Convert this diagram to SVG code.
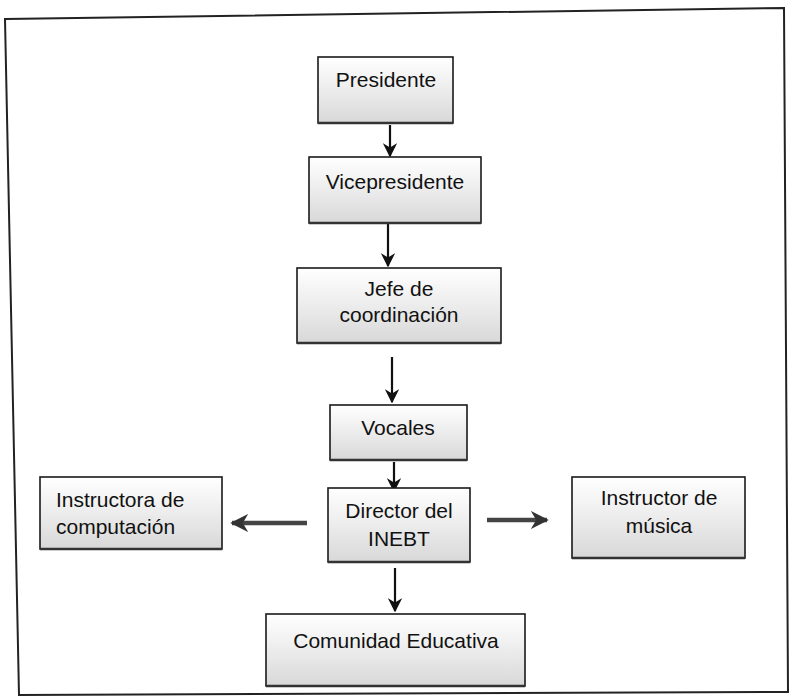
<svg xmlns="http://www.w3.org/2000/svg" width="791" height="700" viewBox="0 0 791 700">
<defs>
<linearGradient id="g" x1="0" y1="0" x2="0" y2="1">
<stop offset="0" stop-color="#ffffff"/>
<stop offset="0.35" stop-color="#f2f2f2"/>
<stop offset="1" stop-color="#d8d8d8"/>
</linearGradient>
<marker id="ah" viewBox="0 0 10 10" refX="9" refY="5" markerWidth="6.5" markerHeight="6.5" markerUnits="strokeWidth" orient="auto">
<path d="M0,0 L10,5 L0,10 L3,5 Z" fill="#111"/>
</marker>
<marker id="ahg" viewBox="0 0 10 10" refX="9" refY="5" markerWidth="4" markerHeight="4" markerUnits="strokeWidth" orient="auto">
<path d="M0,0 L10,5 L0,10 L3,5 Z" fill="#333"/>
</marker>
</defs>
<style>
.box{fill:url(#g);stroke:#1a1a1a;stroke-width:1.6}
.sh{stroke:#333;stroke-width:2.5;fill:none}
.t{font-family:"Liberation Sans",Arial,sans-serif;font-size:21px;fill:#111}
.c{text-anchor:middle}
.v{stroke:#111;stroke-width:2.2;fill:none;marker-end:url(#ah)}
.h{stroke:#444;stroke-width:4.5;fill:none;marker-end:url(#ahg)}
.frame{fill:none;stroke:#222;stroke-width:2}
</style>
<rect width="791" height="700" fill="#fff"/>
<path class="frame" d="M5,19 L784,8 L788,692 L19,695 Z"/>
<g id="connectors">
<line class="v" x1="390" y1="125" x2="390" y2="156"/>
<line class="v" x1="388" y1="224" x2="388" y2="266"/>
<line class="v" x1="392" y1="357" x2="392" y2="402"/>
<line class="v" x1="394" y1="462" x2="394" y2="491"/>
<line class="h" x1="307" y1="523" x2="232" y2="523"/>
<line class="h" x1="487" y1="520" x2="547" y2="520"/>
<line class="v" x1="395" y1="568" x2="395" y2="611"/>
</g>
<g id="presidente">
<rect class="box" x="318" y="57" width="135" height="66"/>
<line class="sh" x1="318" y1="123" x2="453" y2="123"/>
<text class="t c" x="386" y="87">Presidente</text>
</g>
<g id="vicepresidente">
<rect class="box" x="309" y="157" width="172" height="66"/>
<line class="sh" x1="309" y1="223" x2="481" y2="223"/>
<text class="t c" x="395" y="189">Vicepresidente</text>
</g>
<g id="jefe">
<rect class="box" x="297" y="268" width="204" height="75"/>
<line class="sh" x1="297" y1="343" x2="501" y2="343"/>
<text class="t c" x="399" y="296">Jefe de</text>
<text class="t c" x="399" y="322">coordinación</text>
</g>
<g id="vocales">
<rect class="box" x="330" y="405" width="137" height="55"/>
<line class="sh" x1="330" y1="460" x2="467" y2="460"/>
<text class="t c" x="398" y="435">Vocales</text>
</g>
<g id="director">
<rect class="box" x="328" y="488" width="142" height="74"/>
<line class="sh" x1="328" y1="562" x2="470" y2="562"/>
<text class="t c" x="399" y="518">Director del</text>
<text class="t c" x="399" y="546">INEBT</text>
</g>
<g id="instructora">
<rect class="box" x="40" y="477" width="182" height="72"/>
<line class="sh" x1="40" y1="549" x2="222" y2="549"/>
<text class="t" x="56" y="507">Instructora de</text>
<text class="t" x="56" y="534">computación</text>
</g>
<g id="musica">
<rect class="box" x="572" y="477" width="173" height="81"/>
<line class="sh" x1="572" y1="558" x2="745" y2="558"/>
<text class="t c" x="659" y="505">Instructor de</text>
<text class="t c" x="659" y="533">música</text>
</g>
<g id="comunidad">
<rect class="box" x="266" y="614" width="259" height="72"/>
<line class="sh" x1="266" y1="686" x2="525" y2="686"/>
<text class="t c" x="396" y="648">Comunidad Educativa</text>
</g>
</svg>
